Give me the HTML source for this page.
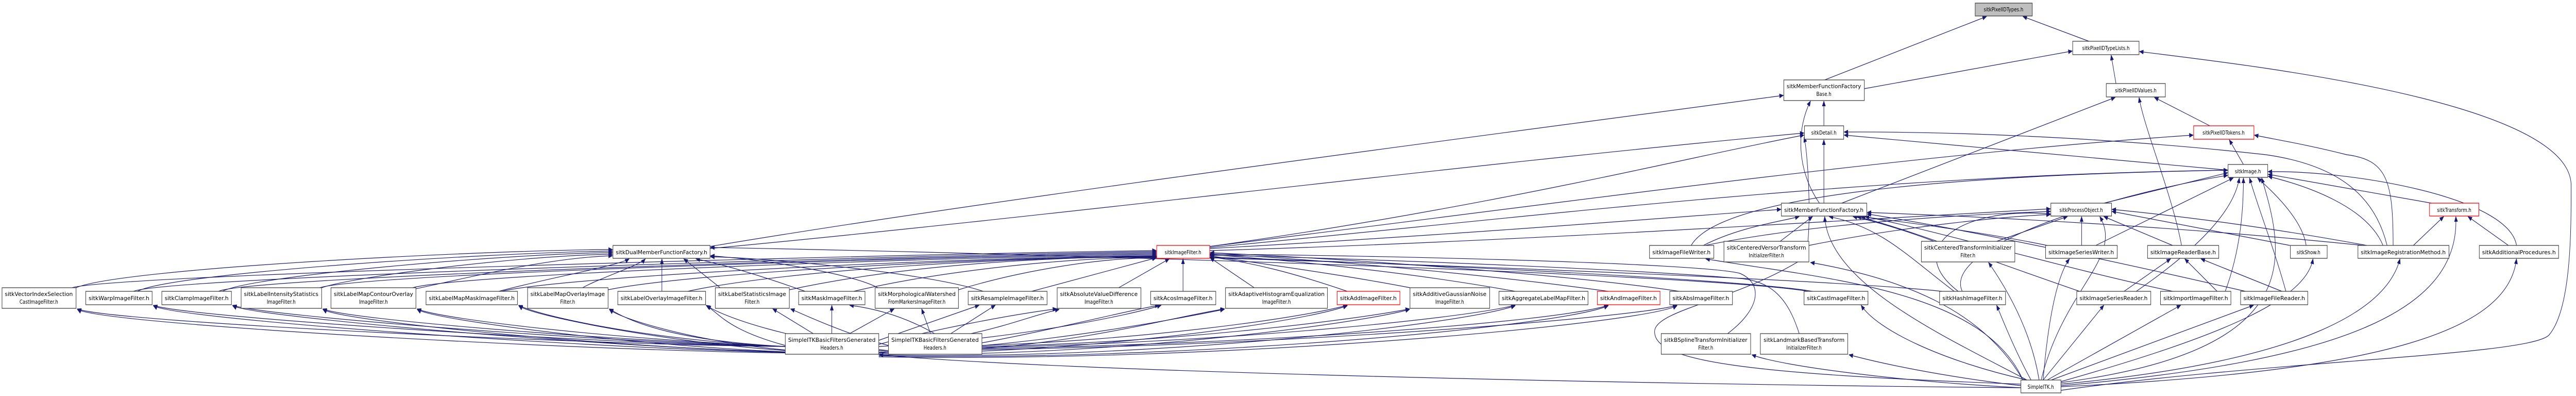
<!DOCTYPE html>
<html><head><meta charset="utf-8"><style>
html,body{margin:0;padding:0;background:#fff;width:100%;height:100%;overflow:hidden;}
svg{display:block;position:fixed;left:0;top:0;width:100vw;height:100vh;}
text{font-family:"DejaVu Sans","Liberation Sans",sans-serif;font-size:11px;fill:#000;text-anchor:middle;}
.e{fill:none;stroke:#191970;stroke-width:1.2;marker-end:url(#a);}
.n{fill:#fff;stroke:#404040;stroke-width:1.3;}
.r{fill:#fff;stroke:#ff0000;stroke-width:1.3;}
.g{fill:#bfbfbf;stroke:#404040;stroke-width:1.3;}
</style></head><body>
<svg viewBox="0 0 6367 768" preserveAspectRatio="none" xmlns="http://www.w3.org/2000/svg">
<defs><marker id="a" markerUnits="userSpaceOnUse" markerWidth="11" markerHeight="9" refX="10" refY="4.5" orient="auto"><path d="M0,0 L11,4.5 L0,9 z" fill="#191970"/></marker></defs>
<g>
<path class="e" d="M4510,155 L4910,32"/>
<path class="e" d="M5163,80 L5000,32"/>
<path class="e" d="M4608,172 L5122,99"/>
<path class="e" d="M5094,757 C5600,700 6250,690 6300,650 C6355,600 6355,450 6355,360 C6355,200 5600,130 5288,100"/>
<path class="e" d="M5230,162 L5218,107"/>
<path class="e" d="M5462,244 L5325,189"/>
<path class="e" d="M4552,394 L5228,189"/>
<path class="e" d="M5392,476 C5370,380 5300,250 5287,189"/>
<path class="e" d="M4508,244 L4508,196"/>
<path class="e" d="M4508,394 L4508,271"/>
<path class="e" d="M4497,394 C4440,330 4440,250 4475,196"/>
<path class="e" d="M5545,319 L5510,271"/>
<path class="e" d="M5507,330 L4558,262"/>
<path class="e" d="M5900,476 C5870,380 5780,320 5600,300 C5200,265 4800,255 4558,256"/>
<path class="e" d="M5915,476 C5915,350 5900,310 5800,300 C5700,280 5620,270 5572,262"/>
<path class="e" d="M2990,478 C3800,400 4700,300 5421,262"/>
<path class="e" d="M2990,478 C3700,400 4200,300 4459,262"/>
<path class="e" d="M1755,478 C2500,380 3800,250 4408,185"/>
<path class="e" d="M1755,482 C2600,420 3600,320 4459,258"/>
<path class="e" d="M2990,482 C3500,460 4000,430 4402,406"/>
<path class="e" d="M2990,486 C3700,470 4500,430 5068,405"/>
<path class="e" d="M2990,480 C3800,420 4600,340 5506,330"/>
<path class="e" d="M1941,672 C1500,670 268,625 191,599"/>
<path class="e" d="M2196,682 C1900,700 268,635 191,600"/>
<path class="e" d="M178,558 C300,530 2400,490 2858,486"/>
<path class="e" d="M188,558 C300,520 1200,485 1514,484"/>
<path class="e" d="M1941,672 C1500,668 450,615 379,592"/>
<path class="e" d="M2196,682 C1900,700 450,625 379,593"/>
<path class="e" d="M330,565 C420,535 2400,492 2858,488"/>
<path class="e" d="M340,565 C420,530 1200,490 1514,487"/>
<path class="e" d="M1941,672 C1500,665 640,612 575,592"/>
<path class="e" d="M2196,682 C1900,700 640,620 575,593"/>
<path class="e" d="M540,565 C620,535 2400,494 2858,490"/>
<path class="e" d="M550,565 C620,535 1250,492 1514,490"/>
<path class="e" d="M1941,672 C1500,660 860,620 798,599"/>
<path class="e" d="M2196,682 C1900,700 860,630 798,600"/>
<path class="e" d="M790,558 C900,530 2400,496 2858,492"/>
<path class="e" d="M795,558 C880,535 1300,495 1514,493"/>
<path class="e" d="M1941,672 C1550,660 1090,620 1031,599"/>
<path class="e" d="M2196,682 C1900,700 1090,628 1031,600"/>
<path class="e" d="M1020,558 C1150,530 2400,497 2858,494"/>
<path class="e" d="M1028,560 C1150,540 1350,500 1514,496"/>
<path class="e" d="M1941,672 C1600,660 1330,612 1282,592"/>
<path class="e" d="M2196,682 C1900,700 1330,620 1282,593"/>
<path class="e" d="M1240,565 C1400,535 2400,498 2858,496"/>
<path class="e" d="M1233,565 C1350,540 1530,515 1555,502"/>
<path class="e" d="M1941,672 C1650,660 1550,620 1506,599"/>
<path class="e" d="M2196,682 C1900,700 1550,628 1506,600"/>
<path class="e" d="M1503,562 C1700,530 2400,500 2858,497"/>
<path class="e" d="M1440,558 C1480,540 1580,515 1595,502"/>
<path class="e" d="M1941,670 C1800,640 1780,610 1745,592"/>
<path class="e" d="M2196,680 C1950,660 1790,615 1747,593"/>
<path class="e" d="M1700,565 C1900,530 2400,500 2858,498"/>
<path class="e" d="M1636,565 L1636,502"/>
<path class="e" d="M2010,647 L1910,599"/>
<path class="e" d="M2196,670 C2100,650 2000,615 1954,599"/>
<path class="e" d="M1951,562 C2200,520 2500,500 2858,497"/>
<path class="e" d="M1780,558 L1690,502"/>
<path class="e" d="M2056,647 L2056,592"/>
<path class="e" d="M2310,647 C2250,620 2180,600 2100,592"/>
<path class="e" d="M2110,565 C2300,530 2600,500 2858,499"/>
<path class="e" d="M1990,565 C1900,540 1800,515 1720,502"/>
<path class="e" d="M2100,647 L2210,599"/>
<path class="e" d="M2300,647 L2278,599"/>
<path class="e" d="M2369,562 C2500,530 2700,500 2858,500"/>
<path class="e" d="M2170,558 C2100,530 1900,505 1756,496"/>
<path class="e" d="M2172,660 L2420,592"/>
<path class="e" d="M2350,647 L2460,592"/>
<path class="e" d="M2550,565 L2858,500"/>
<path class="e" d="M2430,565 C2300,530 1900,500 1756,498"/>
<path class="e" d="M2172,668 C2300,640 2500,610 2612,599"/>
<path class="e" d="M2400,647 C2500,630 2560,610 2618,600"/>
<path class="e" d="M2765,558 L2890,502"/>
<path class="e" d="M2172,672 C2500,660 2800,610 2870,592"/>
<path class="e" d="M2427,665 C2600,640 2800,600 2865,592"/>
<path class="e" d="M2924,565 L2924,502"/>
<path class="e" d="M2427,676 C2700,660 2900,615 3027,599"/>
<path class="e" d="M2172,680 C2500,680 2900,620 3026,600"/>
<path class="e" d="M3100,558 L2991,500"/>
<path class="e" d="M2427,670 C2800,660 3200,620 3330,592"/>
<path class="e" d="M2172,684 C2600,690 3200,630 3330,593"/>
<path class="e" d="M3330,565 C3200,530 3100,510 2991,498"/>
<path class="e" d="M2427,672 C2900,665 3350,620 3484,599"/>
<path class="e" d="M2172,686 C2700,695 3350,630 3484,600"/>
<path class="e" d="M3485,558 C3300,530 3100,510 2991,496"/>
<path class="e" d="M2427,674 C3000,665 3600,620 3745,592"/>
<path class="e" d="M2172,688 C2800,700 3600,632 3745,593"/>
<path class="e" d="M3745,565 C3500,530 3200,505 2991,494"/>
<path class="e" d="M2427,676 C3100,668 3850,625 3975,592"/>
<path class="e" d="M2172,690 C2900,702 3850,635 3975,593"/>
<path class="e" d="M3975,565 C3700,535 3300,505 2991,492"/>
<path class="e" d="M2427,678 C3200,670 4050,615 4145,592"/>
<path class="e" d="M2172,692 C3000,704 4050,630 4145,593"/>
<path class="e" d="M4150,565 C3900,535 3400,505 2991,490"/>
<path class="e" d="M4995,752 C4000,745 2600,720 2173,688"/>
<path class="e" d="M4480,565 C4300,540 3300,505 2991,499"/>
<path class="e" d="M4470,565 C4200,530 2500,490 1756,480"/>
<path class="e" d="M5010,737 C4800,700 4640,640 4600,592"/>
<path class="e" d="M4800,565 C4500,540 3400,510 2991,500"/>
<path class="e" d="M4830,565 C4720,500 4650,440 4521,420"/>
<path class="e" d="M4840,565 C4700,480 4850,400 5068,415"/>
<path class="e" d="M4850,565 C4800,480 5200,380 5506,340"/>
<path class="e" d="M5020,737 C4980,680 4950,620 4935,592"/>
<path class="e" d="M4270,647 C4350,600 4360,550 4300,530 C4200,510 3400,495 2991,493"/>
<path class="e" d="M4995,752 C4700,740 4400,710 4330,688"/>
<path class="e" d="M4447,647 C4420,580 4380,545 4300,540 C4000,520 3300,500 2991,495"/>
<path class="e" d="M4995,748 C4800,730 4650,705 4570,688"/>
<path class="e" d="M4995,745 C4300,725 4080,700 4090,640 C4100,600 4300,580 4460,500 C4480,470 4470,300 4459,266"/>
<path class="e" d="M4400,468 L4480,420"/>
<path class="e" d="M4471,476 C4700,440 4950,420 5068,416"/>
<path class="e" d="M5000,737 C4900,600 4700,540 4475,509"/>
<path class="e" d="M4210,476 C4300,440 4400,430 4447,420"/>
<path class="e" d="M4215,476 C4500,430 4900,415 5068,410"/>
<path class="e" d="M4180,476 C4250,380 4800,340 5506,330"/>
<path class="e" d="M5000,737 C4900,560 4500,540 4216,502"/>
<path class="e" d="M4780,468 C4720,450 4640,430 4580,420"/>
<path class="e" d="M4935,468 L5110,420"/>
<path class="e" d="M5040,737 C5020,640 4960,560 4915,509"/>
<path class="e" d="M5060,476 C4900,450 4700,430 4600,420"/>
<path class="e" d="M5145,476 L5145,420"/>
<path class="e" d="M5180,476 L5520,345"/>
<path class="e" d="M5050,737 C5060,640 5080,540 5115,502"/>
<path class="e" d="M5370,476 L5200,420"/>
<path class="e" d="M5660,476 L5220,410"/>
<path class="e" d="M5700,476 C5690,420 5600,360 5580,345"/>
<path class="e" d="M5094,740 C5500,650 5700,580 5717,502"/>
<path class="e" d="M5840,476 C5400,440 4900,420 4615,412"/>
<path class="e" d="M5850,476 C5600,440 5400,420 5220,406"/>
<path class="e" d="M5890,476 C5850,400 5700,360 5606,342"/>
<path class="e" d="M5965,476 L6040,420"/>
<path class="e" d="M5094,745 C5700,700 5900,600 5932,502"/>
<path class="e" d="M6200,476 L6100,420"/>
<path class="e" d="M6220,476 C6200,380 5800,330 5606,333"/>
<path class="e" d="M5094,750 C5900,720 6200,640 6220,502"/>
<path class="e" d="M6010,394 L5606,338"/>
<path class="e" d="M5094,748 C5800,700 6080,600 6070,420"/>
<path class="e" d="M5250,565 L5365,502"/>
<path class="e" d="M5280,565 C5400,500 5520,420 5535,345"/>
<path class="e" d="M5140,565 C4900,500 4700,440 4590,420"/>
<path class="e" d="M5050,737 L5200,592"/>
<path class="e" d="M5480,565 L5400,502"/>
<path class="e" d="M5500,565 C5540,480 5545,400 5545,345"/>
<path class="e" d="M5370,565 C5100,520 4800,450 4610,420"/>
<path class="e" d="M5060,737 L5390,592"/>
<path class="e" d="M5640,565 L5440,502"/>
<path class="e" d="M5650,565 C5620,480 5580,400 5560,345"/>
<path class="e" d="M5550,565 C5300,520 4900,450 4615,415"/>
<path class="e" d="M5070,737 L5570,592"/>
<path class="e" d="M5094,742 C5700,680 5650,500 5590,345"/>
<path class="e" d="M5045,737 C5100,560 5250,500 5190,420"/>
<path class="e" d="M5010,737 C4800,650 4520,550 4510,420"/>
<path class="e" d="M5200,394 L5506,335"/>
</g>
<g>
<rect class="g" x="4882" y="6" width="141" height="25"/><text x="4952" y="22">sitkPixelIDTypes.h</text>
<rect class="n" x="5123" y="80" width="164" height="26"/><text x="5205" y="97">sitkPixelIDTypeLists.h</text>
<rect class="n" x="4409" y="155" width="199" height="40"/><text x="4508" y="171" textLength="184" lengthAdjust="spacingAndGlyphs">sitkMemberFunctionFactory</text><text x="4508" y="186">Base.h</text>
<rect class="n" x="5206" y="162" width="146" height="26"/><text x="5279" y="179">sitkPixelIDValues.h</text>
<rect class="n" x="4460" y="244" width="97" height="26"/><text x="4508" y="261">sitkDetail.h</text>
<rect class="r" x="5422" y="244" width="149" height="26"/><text x="5496" y="261">sitkPixelIDTokens.h</text>
<rect class="n" x="5507" y="319" width="98" height="25"/><text x="5556" y="336">sitkImage.h</text>
<rect class="n" x="4403" y="394" width="211" height="25"/><text x="4508" y="411" textLength="196" lengthAdjust="spacingAndGlyphs">sitkMemberFunctionFactory.h</text>
<rect class="n" x="5069" y="394" width="150" height="25"/><text x="5144" y="411">sitkProcessObject.h</text>
<rect class="r" x="6005" y="394" width="122" height="25"/><text x="6066" y="411">sitkTransform.h</text>
<rect class="n" x="1515" y="476" width="240" height="25"/><text x="1635" y="493" textLength="226" lengthAdjust="spacingAndGlyphs">sitkDualMemberFunctionFactory.h</text>
<rect class="r" x="2859" y="476" width="131" height="25"/><text x="2924" y="493">sitkImageFilter.h</text>
<rect class="n" x="4077" y="476" width="159" height="25"/><text x="4156" y="493" textLength="144" lengthAdjust="spacingAndGlyphs">sitkImageFileWriter.h</text>
<rect class="n" x="4261" y="468" width="210" height="40"/><text x="4366" y="484" textLength="196" lengthAdjust="spacingAndGlyphs">sitkCenteredVersorTransform</text><text x="4366" y="499">InitializerFilter.h</text>
<rect class="n" x="4749" y="468" width="231" height="40"/><text x="4864" y="484" textLength="216" lengthAdjust="spacingAndGlyphs">sitkCenteredTransformInitializer</text><text x="4864" y="499">Filter.h</text>
<rect class="n" x="5056" y="476" width="177" height="25"/><text x="5144" y="493" textLength="162" lengthAdjust="spacingAndGlyphs">sitkImageSeriesWriter.h</text>
<rect class="n" x="5308" y="476" width="176" height="25"/><text x="5396" y="493" textLength="162" lengthAdjust="spacingAndGlyphs">sitkImageReaderBase.h</text>
<rect class="n" x="5661" y="476" width="91" height="25"/><text x="5706" y="493">sitkShow.h</text>
<rect class="n" x="5828" y="476" width="225" height="25"/><text x="5940" y="493" textLength="210" lengthAdjust="spacingAndGlyphs">sitkImageRegistrationMethod.h</text>
<rect class="n" x="6128" y="476" width="196" height="25"/><text x="6226" y="493" textLength="182" lengthAdjust="spacingAndGlyphs">sitkAdditionalProcedures.h</text>
<rect class="n" x="5" y="558" width="183" height="40"/><text x="96" y="574" textLength="168" lengthAdjust="spacingAndGlyphs">sitkVectorIndexSelection</text><text x="96" y="589">CastImageFilter.h</text>
<rect class="n" x="212" y="565" width="164" height="26"/><text x="294" y="582" textLength="150" lengthAdjust="spacingAndGlyphs">sitkWarpImageFilter.h</text>
<rect class="n" x="400" y="565" width="172" height="26"/><text x="486" y="582" textLength="158" lengthAdjust="spacingAndGlyphs">sitkClampImageFilter.h</text>
<rect class="n" x="596" y="558" width="199" height="40"/><text x="695" y="574" textLength="184" lengthAdjust="spacingAndGlyphs">sitkLabelIntensityStatistics</text><text x="695" y="589">ImageFilter.h</text>
<rect class="n" x="818" y="558" width="210" height="40"/><text x="923" y="574" textLength="196" lengthAdjust="spacingAndGlyphs">sitkLabelMapContourOverlay</text><text x="923" y="589">ImageFilter.h</text>
<rect class="n" x="1053" y="565" width="226" height="26"/><text x="1166" y="582" textLength="212" lengthAdjust="spacingAndGlyphs">sitkLabelMapMaskImageFilter.h</text>
<rect class="n" x="1304" y="558" width="199" height="40"/><text x="1403" y="574" textLength="184" lengthAdjust="spacingAndGlyphs">sitkLabelMapOverlayImage</text><text x="1403" y="589">Filter.h</text>
<rect class="n" x="1527" y="565" width="217" height="26"/><text x="1635" y="582" textLength="202" lengthAdjust="spacingAndGlyphs">sitkLabelOverlayImageFilter.h</text>
<rect class="n" x="1768" y="558" width="183" height="40"/><text x="1859" y="574" textLength="168" lengthAdjust="spacingAndGlyphs">sitkLabelStatisticsImage</text><text x="1859" y="589">Filter.h</text>
<rect class="n" x="1974" y="565" width="164" height="26"/><text x="2056" y="582" textLength="150" lengthAdjust="spacingAndGlyphs">sitkMaskImageFilter.h</text>
<rect class="n" x="2163" y="558" width="206" height="40"/><text x="2266" y="574" textLength="192" lengthAdjust="spacingAndGlyphs">sitkMorphologicalWatershed</text><text x="2266" y="589">FromMarkersImageFilter.h</text>
<rect class="n" x="2393" y="565" width="195" height="26"/><text x="2490" y="582" textLength="180" lengthAdjust="spacingAndGlyphs">sitkResampleImageFilter.h</text>
<rect class="n" x="2613" y="558" width="207" height="40"/><text x="2716" y="574" textLength="192" lengthAdjust="spacingAndGlyphs">sitkAbsoluteValueDifference</text><text x="2716" y="589">ImageFilter.h</text>
<rect class="n" x="2844" y="565" width="161" height="26"/><text x="2924" y="582" textLength="146" lengthAdjust="spacingAndGlyphs">sitkAcosImageFilter.h</text>
<rect class="n" x="3029" y="558" width="252" height="40"/><text x="3155" y="574" textLength="238" lengthAdjust="spacingAndGlyphs">sitkAdaptiveHistogramEqualization</text><text x="3155" y="589">ImageFilter.h</text>
<rect class="r" x="3305" y="565" width="155" height="26"/><text x="3382" y="582" textLength="140" lengthAdjust="spacingAndGlyphs">sitkAddImageFilter.h</text>
<rect class="n" x="3485" y="558" width="197" height="40"/><text x="3583" y="574" textLength="182" lengthAdjust="spacingAndGlyphs">sitkAdditiveGaussianNoise</text><text x="3583" y="589">ImageFilter.h</text>
<rect class="n" x="3705" y="565" width="220" height="26"/><text x="3815" y="582" textLength="206" lengthAdjust="spacingAndGlyphs">sitkAggregateLabelMapFilter.h</text>
<rect class="r" x="3948" y="565" width="155" height="26"/><text x="4025" y="582" textLength="140" lengthAdjust="spacingAndGlyphs">sitkAndImageFilter.h</text>
<rect class="n" x="4127" y="565" width="155" height="26"/><text x="4204" y="582" textLength="140" lengthAdjust="spacingAndGlyphs">sitkAbsImageFilter.h</text>
<rect class="n" x="4459" y="565" width="158" height="26"/><text x="4538" y="582" textLength="144" lengthAdjust="spacingAndGlyphs">sitkCastImageFilter.h</text>
<rect class="n" x="4794" y="565" width="163" height="26"/><text x="4875" y="582" textLength="148" lengthAdjust="spacingAndGlyphs">sitkHashImageFilter.h</text>
<rect class="n" x="5133" y="565" width="183" height="26"/><text x="5224" y="582" textLength="168" lengthAdjust="spacingAndGlyphs">sitkImageSeriesReader.h</text>
<rect class="n" x="5340" y="565" width="174" height="26"/><text x="5427" y="582" textLength="160" lengthAdjust="spacingAndGlyphs">sitkImportImageFilter.h</text>
<rect class="n" x="5538" y="565" width="166" height="26"/><text x="5621" y="582" textLength="152" lengthAdjust="spacingAndGlyphs">sitkImageFileReader.h</text>
<rect class="n" x="1941" y="647" width="231" height="40"/><text x="2056" y="663" textLength="216" lengthAdjust="spacingAndGlyphs">SimpleITKBasicFiltersGenerated</text><text x="2056" y="678">Headers.h</text>
<rect class="n" x="2196" y="647" width="231" height="40"/><text x="2311" y="663" textLength="216" lengthAdjust="spacingAndGlyphs">SimpleITKBasicFiltersGenerated</text><text x="2311" y="678">Headers.h</text>
<rect class="n" x="4106" y="647" width="221" height="40"/><text x="4216" y="663" textLength="206" lengthAdjust="spacingAndGlyphs">sitkBSplineTransformInitializer</text><text x="4216" y="678">Filter.h</text>
<rect class="n" x="4351" y="647" width="216" height="40"/><text x="4459" y="663" textLength="200" lengthAdjust="spacingAndGlyphs">sitkLandmarkBasedTransform</text><text x="4459" y="678">InitializerFilter.h</text>
<rect class="n" x="4995" y="737" width="99" height="25"/><text x="5044" y="754">SimpleITK.h</text>
</g>
</svg>
</body></html>
